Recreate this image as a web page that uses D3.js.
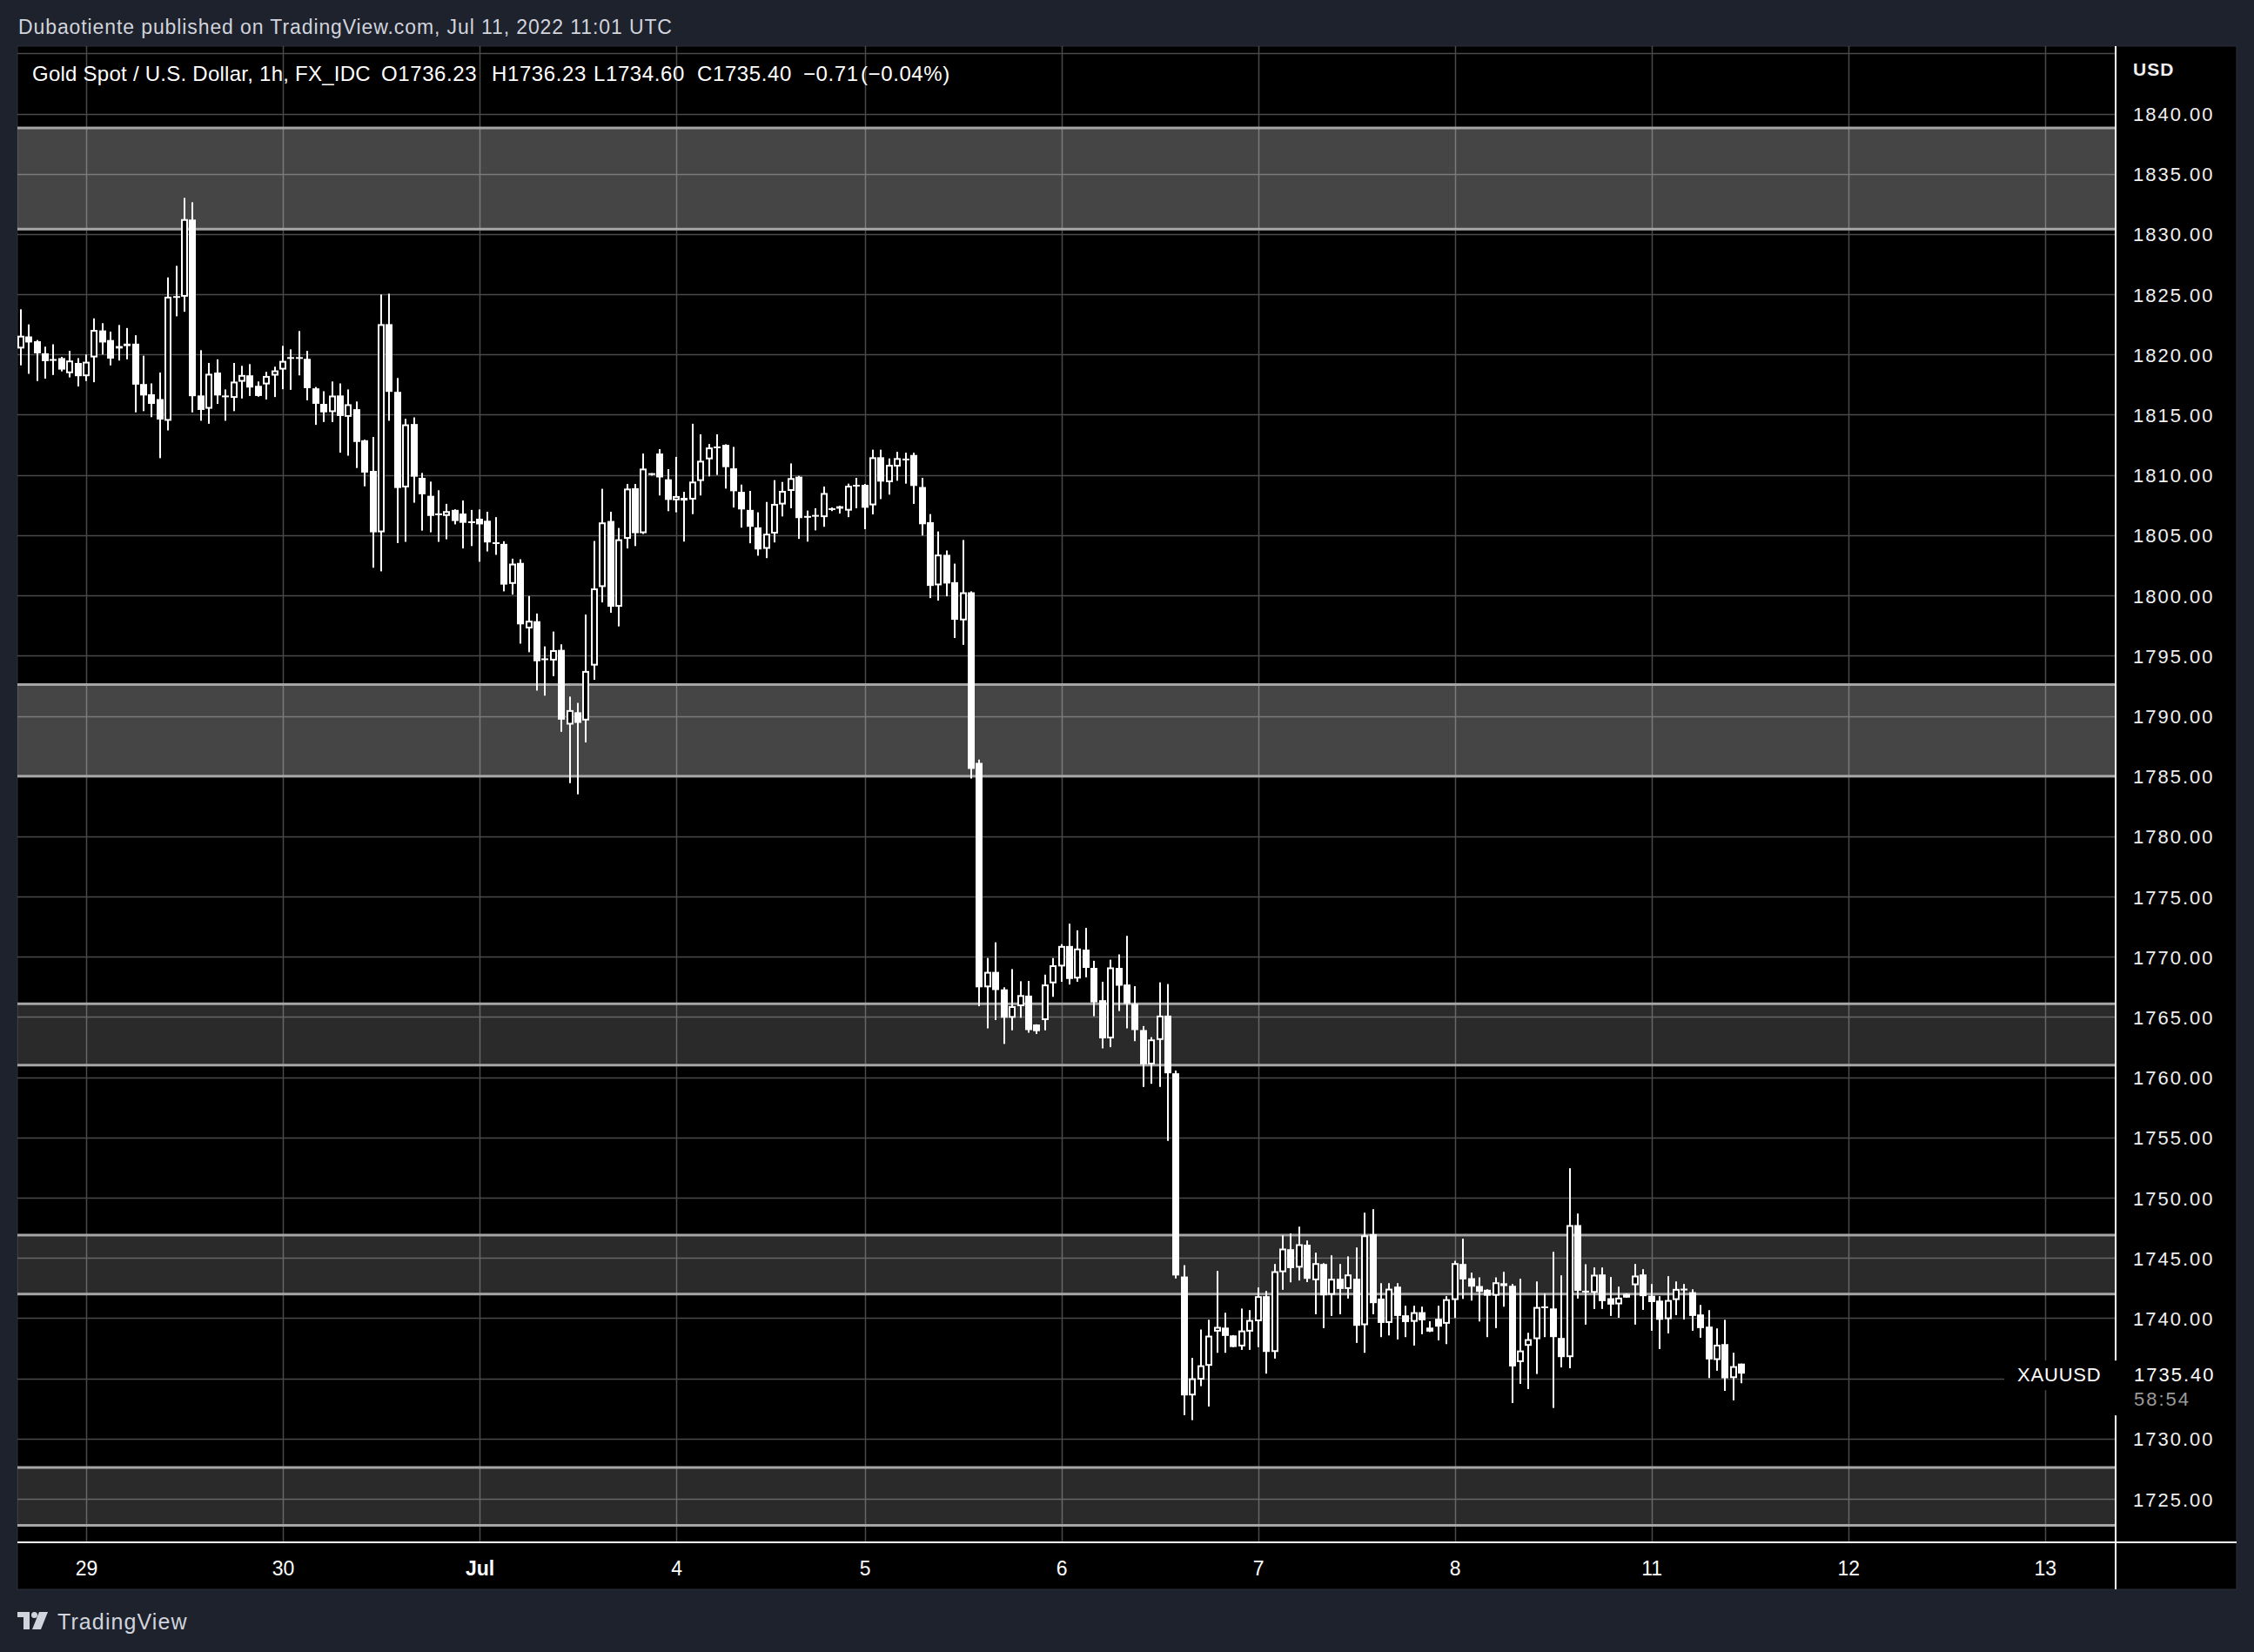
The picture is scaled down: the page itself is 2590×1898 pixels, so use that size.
<!DOCTYPE html>
<html><head><meta charset="utf-8">
<script src="https://cdn.jsdelivr.net/npm/d3@7"></script>
<style>html,body{margin:0;padding:0;background:#1e222d;}svg{display:block}</style>
</head><body>
<svg id="chart" width="2590" height="1898"></svg>
<script>
// ---------- DATA (XAUUSD 1h, bar index 0 = Jun 28 16:00 UTC) ----------
const opens = [1820.5,1821.5,1821.1,1820.1,1819.6,1819.7,1818.45,1819.3,1818.2,1819.76,
1822.0,1821.2,1820.7,1820.9,1820.9,1817.55,1816.7,1816.3,1814.5,1824.8,
1824.8,1831.2,1816.6,1815.5,1818.5,1816.55,1816.4,1817.74,1818.27,1817.4,
1817.52,1818.25,1818.75,1819.7,1819.7,1819.64,1817.19,1815.9,1815.22,1816.6,
1814.83,1815.46,1812.88,1810.34,1805.24,1822.52,1816.9,1808.97,1814.23,1809.76,
1808.27,1806.75,1806.6,1807.1,1806.8,1806.1,1806.37,1806.2,1804.35,1804.28,
1800.96,1802.7,1797.26,1797.86,1794.72,1794.6,1795.48,1789.28,1790.3,1789.62,
1794.18,1800.7,1806.18,1799.06,1804.7,1808.9,1805.17,1810.05,1811.78,1809.64,
1807.9,1808.1,1807.96,1809.5,1811.3,1812.28,1812.5,1810.55,1808.6,1807.1,
1805.65,1803.87,1805.14,1807.55,1808.68,1809.86,1806.55,1806.6,1806.5,1807.18,
1807.2,1807.04,1809.1,1809.18,1807.48,1811.47,1809.4,1810.7,1811.27,1811.66,
1809.0,1806.08,1800.84,1803.37,1801.1,1797.93,1800.26,1786.1,1767.47,1768.75,
1767.3,1764.94,1765.9,1766.78,1764.38,1764.75,1767.8,1769.2,1770.9,1768.2,
1770.6,1769.08,1766.4,1763.23,1769.08,1767.7,1766.1,1763.92,1761.07,1763.1,
1765.12,1760.33,1743.46,1733.59,1734.9,1736.05,1738.89,1739.22,1738.57,1737.66,
1738.89,1739.75,1741.83,1737.2,1743.82,1745.73,1744.2,1746.1,1743.15,1744.5,
1741.95,1743.27,1742.43,1743.27,1739.42,1746.98,1741.63,1739.61,1742.62,1740.24,
1739.7,1740.5,1739.22,1739.95,1739.54,1741.51,1744.5,1743.32,1742.67,1742.36,
1741.87,1742.9,1742.69,1736.36,1737.71,1738.26,1740.89,1740.81,1738.36,1736.77,
1747.73,1742.22,1742.11,1743.63,1741.66,1741.15,1742.02,1742.74,1743.63,1741.87,
1741.46,1739.92,1741.51,1742.36,1742.16,1740.31,1739.3,1736.53,1737.85,1735.03,
1736.23];
const highs = [1823.75,1822.5,1821.2,1820.65,1820.85,1819.8,1820.3,1819.7,1820.0,1823.0,
1822.6,1821.9,1822.45,1822.2,1821.6,1819.9,1817.6,1818.5,1826.4,1827.36,
1833.0,1832.64,1820.36,1819.3,1819.6,1817.1,1819.3,1819.06,1819.2,1817.76,
1818.56,1818.99,1820.72,1820.43,1821.95,1820.3,1817.3,1816.95,1817.76,1817.6,
1817.1,1816.1,1812.93,1813.15,1824.98,1825.05,1818.05,1814.66,1814.78,1810.17,
1809.45,1808.73,1807.6,1807.15,1807.88,1807.1,1807.14,1806.95,1806.5,1804.5,
1803.05,1803.0,1799.95,1798.5,1795.77,1797.0,1795.94,1791.6,1791.08,1798.41,
1804.52,1808.85,1806.95,1805.6,1809.25,1809.25,1811.78,1810.15,1812.14,1810.48,
1811.5,1808.6,1814.25,1813.37,1812.57,1813.37,1812.55,1812.33,1809.2,1808.68,
1806.9,1807.76,1809.57,1809.42,1810.96,1809.93,1807.04,1807.24,1809.04,1807.3,
1807.45,1809.28,1809.76,1809.25,1812.1,1812.1,1811.37,1811.92,1811.85,1811.85,
1809.76,1806.75,1805.31,1803.73,1802.64,1804.6,1800.34,1786.37,1769.9,1771.2,
1767.47,1768.98,1767.97,1768.0,1764.4,1768.52,1769.9,1771.05,1772.75,1772.2,
1772.4,1769.67,1767.93,1769.76,1770.2,1771.74,1767.56,1764.25,1763.33,1767.88,
1767.74,1760.56,1744.4,1736.7,1739.06,1739.87,1743.92,1740.45,1738.6,1740.8,
1740.67,1742.55,1742.26,1744.5,1746.88,1747.03,1747.6,1746.45,1745.44,1744.57,
1745.22,1744.5,1745.13,1745.87,1748.76,1749.05,1742.91,1742.91,1742.91,1741.03,
1741.03,1740.96,1739.75,1741.03,1741.83,1744.76,1746.6,1743.78,1743.39,1742.4,
1743.39,1743.85,1742.84,1743.27,1738.79,1743.05,1742.04,1745.51,1743.56,1752.45,
1748.69,1744.48,1744.21,1744.21,1743.42,1742.62,1742.05,1744.5,1744.07,1742.84,
1741.83,1743.49,1743.05,1742.84,1742.4,1741.1,1740.67,1739.15,1739.87,1737.13,
1736.23];
const lows = [1819.1,1818.4,1817.8,1818.0,1818.3,1818.6,1818.1,1817.35,1817.8,1817.7,
1820.0,1819.1,1819.5,1819.6,1815.2,1815.3,1814.8,1811.4,1813.7,1823.17,
1823.55,1815.2,1814.5,1814.25,1815.9,1814.5,1815.3,1816.35,1816.56,1816.5,
1816.27,1816.47,1817.12,1817.07,1818.27,1816.2,1814.16,1814.4,1814.4,1811.85,
1811.6,1810.58,1809.06,1802.3,1802.0,1814.5,1804.35,1804.45,1807.7,1805.38,
1805.24,1804.45,1804.66,1805.9,1803.9,1804.1,1802.8,1803.65,1803.37,1800.34,
1800.07,1796.0,1795.29,1792.1,1791.68,1793.3,1788.68,1784.42,1783.49,1787.8,
1793.0,1799.42,1798.56,1797.43,1803.9,1804.1,1805.1,1809.95,1808.3,1807.0,
1806.9,1804.47,1806.75,1808.3,1809.88,1810.0,1808.87,1807.3,1805.63,1804.33,
1803.3,1803.1,1804.4,1806.56,1807.24,1804.69,1804.47,1805.4,1805.7,1807.0,
1806.8,1806.5,1807.24,1805.5,1806.73,1808.0,1808.37,1809.52,1809.28,1807.6,
1804.98,1799.78,1799.57,1799.93,1796.47,1795.9,1784.8,1765.9,1764.06,1764.75,
1762.77,1763.9,1764.94,1763.7,1763.6,1763.9,1766.68,1767.93,1767.7,1767.93,
1768.3,1765.07,1762.4,1762.5,1765.5,1764.06,1763.0,1759.2,1759.46,1759.2,
1754.72,1743.3,1731.95,1731.54,1734.36,1732.67,1737.13,1737.13,1737.6,1737.37,
1737.37,1737.6,1735.4,1736.65,1742.36,1742.98,1743.13,1743.0,1740.33,1739.18,
1740.19,1740.33,1741.63,1737.95,1737.13,1740.33,1738.43,1738.57,1738.24,1738.43,
1737.73,1738.67,1738.85,1738.16,1737.85,1740.02,1741.6,1741.46,1739.73,1738.43,
1739.18,1740.96,1732.96,1734.55,1734.12,1735.37,1738.43,1732.55,1735.92,1735.85,
1741.63,1739.47,1740.77,1740.77,1740.19,1740.04,1741.7,1739.47,1740.69,1738.96,
1737.44,1738.74,1740.26,1739.9,1738.96,1738.38,1735.03,1735.64,1733.97,1733.18,
1734.6];
const closes = [1821.56,1821.0,1820.1,1819.45,1819.5,1818.75,1819.5,1818.2,1819.4,1822.04,
1821.0,1819.66,1820.5,1820.7,1817.5,1816.6,1815.9,1814.6,1824.8,1824.75,
1831.24,1816.54,1815.4,1818.4,1816.6,1816.5,1817.75,1818.3,1817.26,1816.56,
1818.22,1818.68,1819.47,1819.72,1819.72,1817.21,1815.91,1815.2,1816.59,1814.9,
1815.87,1812.74,1810.2,1805.24,1822.52,1816.9,1808.92,1814.2,1809.86,1808.4,
1806.6,1806.72,1807.0,1806.18,1806.03,1806.06,1805.9,1804.4,1804.33,1800.9,
1802.64,1797.6,1797.9,1794.54,1794.68,1795.46,1789.69,1790.48,1789.42,1793.73,
1800.58,1806.06,1799.06,1804.66,1808.87,1805.17,1810.53,1810.1,1809.8,1807.93,
1808.25,1807.88,1809.45,1811.18,1812.28,1812.3,1810.65,1808.65,1807.14,1805.7,
1803.82,1805.12,1807.6,1808.68,1809.74,1806.42,1806.5,1806.62,1808.5,1807.16,
1807.4,1809.1,1809.12,1807.28,1811.47,1809.45,1810.84,1811.4,1811.3,1809.09,
1805.91,1800.79,1803.39,1800.99,1797.98,1800.26,1785.6,1767.47,1768.75,1767.24,
1764.94,1765.9,1766.82,1763.92,1763.83,1767.7,1769.3,1770.9,1768.16,1770.69,
1769.08,1766.22,1763.23,1769.12,1767.6,1766.1,1763.92,1761.07,1763.14,1765.12,
1760.33,1743.55,1733.59,1735.01,1736.09,1738.55,1739.28,1738.53,1737.61,1738.98,
1739.85,1741.83,1737.2,1743.9,1745.78,1744.16,1746.14,1743.27,1744.57,1741.9,
1743.27,1742.43,1743.63,1739.37,1746.88,1741.25,1739.61,1742.45,1740.19,1739.68,
1740.5,1739.83,1738.89,1739.3,1741.58,1744.57,1743.22,1742.62,1742.19,1741.87,
1742.98,1742.67,1736.0,1737.32,1738.26,1740.93,1740.92,1738.43,1736.77,1747.73,
1742.28,1742.2,1743.61,1741.42,1741.13,1741.71,1741.71,1743.54,1741.83,1741.34,
1739.87,1741.51,1742.43,1742.4,1740.19,1739.18,1736.58,1737.8,1735.01,1736.02,
1735.4];

const dayTickIndex = [8, 32, 56, 80, 103, 127, 151, 175, 199, 223, 247];
const dayTickLabels = ["29", "30", "Jul", "4", "5", "6", "7", "8", "11", "12", "13"];
const priceTicks = [1840,1835,1830,1825,1820,1815,1810,1805,1800,1795,1790,1785,1780,1775,1770,1765,1760,1755,1750,1745,1740,1735,1730,1725];

const zoneTop    = [1838.8, 1792.6, 1766.1, 1746.9, 1727.6];
const zoneBottom = [1830.4, 1785.0, 1761.0, 1742.0, 1722.8];
const zoneKind   = ["major", "major", "minor", "minor", "minor"];

const lastPrice = 1735.40;
const countdown = "58:54";
const symbol = "XAUUSD";
const currency = "USD";
const headerText = "Dubaotiente published on TradingView.com, Jul 11, 2022 11:01 UTC";
const legendTitle = "Gold Spot / U.S. Dollar, 1h, FX_IDC";
const legendValues = ["O1736.23", "H1736.23", "L1734.60", "C1735.40", "\u22120.71", "(\u22120.04%)"];

// ---------- LAYOUT ----------
const W = 2590, H = 1898;
const paneL = 20, paneR = 2431, paneT = 53, paneB = 1772, axisR = 2570, axisB = 1826;
const FONT = "'Liberation Sans', Arial, sans-serif";

const svg = d3.select("#chart");
const x = d3.scaleLinear().domain([0, 210]).range([23.7, 23.7 + 210 * 9.417]);
const y = d3.scaleLinear().domain([1840, 1725]).range([130.5, 1722.1]);

svg.append("rect").attr("width", W).attr("height", H).attr("fill", "#1e222d");
svg.append("rect").attr("x", paneL).attr("y", paneT).attr("width", axisR - paneL).attr("height", axisB - paneT)
  .attr("fill", "#000").attr("stroke", "#2a2e39").attr("stroke-width", 1);

const defs = svg.append("defs");
defs.append("clipPath").attr("id", "plotClip").append("rect")
  .attr("x", paneL).attr("y", paneT).attr("width", paneR - paneL).attr("height", paneB - paneT);

const plot = svg.append("g").attr("clip-path", "url(#plotClip)");

// grid
const gridPrices = d3.range(1725, 1850, 5).filter(p => y(p) > paneT && y(p) < paneB);
plot.append("g").selectAll("line").data(gridPrices).join("line")
  .attr("x1", paneL).attr("x2", paneR).attr("y1", d => Math.round(y(d)) + 0.5).attr("y2", d => Math.round(y(d)) + 0.5)
  .attr("stroke", "#4a4a4a").attr("stroke-width", 1.5);
plot.append("g").selectAll("line").data(dayTickIndex).join("line")
  .attr("x1", d => Math.round(x(d)) + 0.5).attr("x2", d => Math.round(x(d)) + 0.5).attr("y1", paneT).attr("y2", paneB)
  .attr("stroke", "#4a4a4a").attr("stroke-width", 1.5);

// zones
const zones = zoneTop.map((t, i) => ({ t, b: zoneBottom[i], k: zoneKind[i] }));
plot.append("g").selectAll("rect").data(zones).join("rect")
  .attr("x", paneL).attr("width", paneR - paneL)
  .attr("y", d => y(d.t)).attr("height", d => y(d.b) - y(d.t))
  .attr("fill", d => d.k === "major" ? "rgba(255,255,255,0.27)" : "rgba(255,255,255,0.165)");
const zoneLines = zones.flatMap(d => [d.t, d.b]);
plot.append("g").selectAll("line").data(zoneLines).join("line")
  .attr("x1", paneL).attr("x2", paneR).attr("y1", d => y(d)).attr("y2", d => y(d))
  .attr("stroke", "#a6a6a6").attr("stroke-width", 3);

// candles
const candles = opens.map((o, i) => ({ i, o, h: highs[i], l: lows[i], c: closes[i] }));
const cg = plot.append("g");
cg.selectAll("rect.wick").data(candles).join("rect").attr("class", "wick")
  .attr("x", d => Math.round(x(d.i)) - 1).attr("width", 2)
  .attr("y", d => y(d.h)).attr("height", d => Math.max(1, y(d.l) - y(d.h)))
  .attr("fill", "#fff");
function bodyBox(d) {
  let t = y(Math.max(d.o, d.c)), b = y(Math.min(d.o, d.c));
  if (b - t < 2) { const m = (t + b) / 2; t = m - 1; b = m + 1; }
  return [t, b];
}
cg.selectAll("rect.body").data(candles).join("rect").attr("class", "body")
  .each(function (d) {
    const cx = Math.round(x(d.i));
    const [t, b] = bodyBox(d);
    const up = d.c >= d.o;
    const sel = d3.select(this);
    if (up && b - t > 4) {
      sel.attr("x", cx - 3).attr("width", 6).attr("y", t + 1).attr("height", b - t - 2)
        .attr("fill", "#000").attr("stroke", "#fff").attr("stroke-width", 2);
    } else {
      sel.attr("x", cx - 4).attr("width", 8).attr("y", t).attr("height", b - t).attr("fill", "#fff");
    }
  });

// symbol label on the pane
const lpY = y(lastPrice);
svg.append("rect").attr("x", 2303).attr("y", lpY - 15).attr("width", paneR - 2303).attr("height", 34).attr("fill", "#000");
svg.append("text").attr("x", 2318).attr("y", lpY + 9).attr("fill", "#fff")
  .attr("font-family", FONT).attr("font-size", 22).attr("letter-spacing", 0.8).text(symbol);

// axis lines
svg.append("rect").attr("x", paneL).attr("y", paneB - 1).attr("width", axisR - paneL).attr("height", 2).attr("fill", "#fff");
svg.append("rect").attr("x", paneR - 1).attr("y", paneT).attr("width", 2).attr("height", axisB - paneT).attr("fill", "#fff");

// price axis
const yAxis = d3.axisRight(y).tickValues(priceTicks.filter(p => Math.abs(p - lastPrice) > 3))
  .tickFormat(d3.format(".2f")).tickSize(0).tickPadding(20);
const ya = svg.append("g").attr("transform", `translate(${paneR},0)`).call(yAxis);
ya.select(".domain").remove();
ya.selectAll("text").attr("fill", "#f0f0f0").attr("font-family", FONT).attr("font-size", 22)
  .attr("letter-spacing", 2).attr("dy", "0.36em");
svg.append("text").attr("x", 2451).attr("y", 87).attr("fill", "#f0f0f0").attr("font-family", FONT)
  .attr("font-size", 21).attr("font-weight", "bold").attr("letter-spacing", 1).text(currency);

// last price label on axis
svg.append("rect").attr("x", paneR - 2).attr("y", lpY - 15).attr("width", axisR - paneR + 1).attr("height", 63).attr("fill", "#000");
svg.append("text").attr("x", 2452).attr("y", lpY + 9).attr("fill", "#fff").attr("font-family", FONT)
  .attr("font-size", 22).attr("letter-spacing", 2).text(d3.format(".2f")(lastPrice));
svg.append("text").attr("x", 2452).attr("y", lpY + 37).attr("fill", "#9a9a9a").attr("font-family", FONT)
  .attr("font-size", 22).attr("letter-spacing", 2).text(countdown);

// time axis
const xAxis = d3.axisBottom(x).tickValues(dayTickIndex).tickFormat((d, i) => dayTickLabels[i]).tickSize(0).tickPadding(22);
const xa = svg.append("g").attr("transform", `translate(0,${paneB})`).call(xAxis);
xa.select(".domain").remove();
xa.selectAll("text").attr("fill", "#fff").attr("font-family", FONT).attr("font-size", 23)
  .attr("font-weight", (d, i) => dayTickLabels[i] === "Jul" ? "bold" : "normal");

// header + legend
svg.append("text").attr("x", 21).attr("y", 39).attr("fill", "#d1d4dc").attr("font-family", FONT)
  .attr("font-size", 23).attr("letter-spacing", 0.9).text(headerText);
svg.append("text").attr("x", 37).attr("y", 93).attr("fill", "#fff").attr("font-family", FONT)
  .attr("font-size", 24).attr("letter-spacing", 0.25).text(legendTitle);
const legendX = [438, 565, 682, 801, 923, 989];
svg.append("g").selectAll("text").data(legendValues).join("text")
  .attr("x", (d, i) => legendX[i]).attr("y", 93).attr("fill", "#fff").attr("font-family", FONT)
  .attr("font-size", 24).attr("letter-spacing", 0.6).text(d => d);

// footer logo
const logo = svg.append("g").attr("fill", "#d1d4dc");
logo.append("rect").attr("x", 20).attr("y", 1852).attr("width", 14).attr("height", 6);
logo.append("rect").attr("x", 27).attr("y", 1852).attr("width", 7).attr("height", 20);
logo.append("circle").attr("cx", 39.5).attr("cy", 1855.5).attr("r", 3.5);
logo.append("polygon").attr("points", "45,1852 55,1852 47,1872 37,1872");
svg.append("text").attr("x", 66).attr("y", 1872).attr("fill", "#d1d4dc").attr("font-family", FONT)
  .attr("font-size", 25).attr("letter-spacing", 1.1).text("TradingView");
</script>
</body></html>
